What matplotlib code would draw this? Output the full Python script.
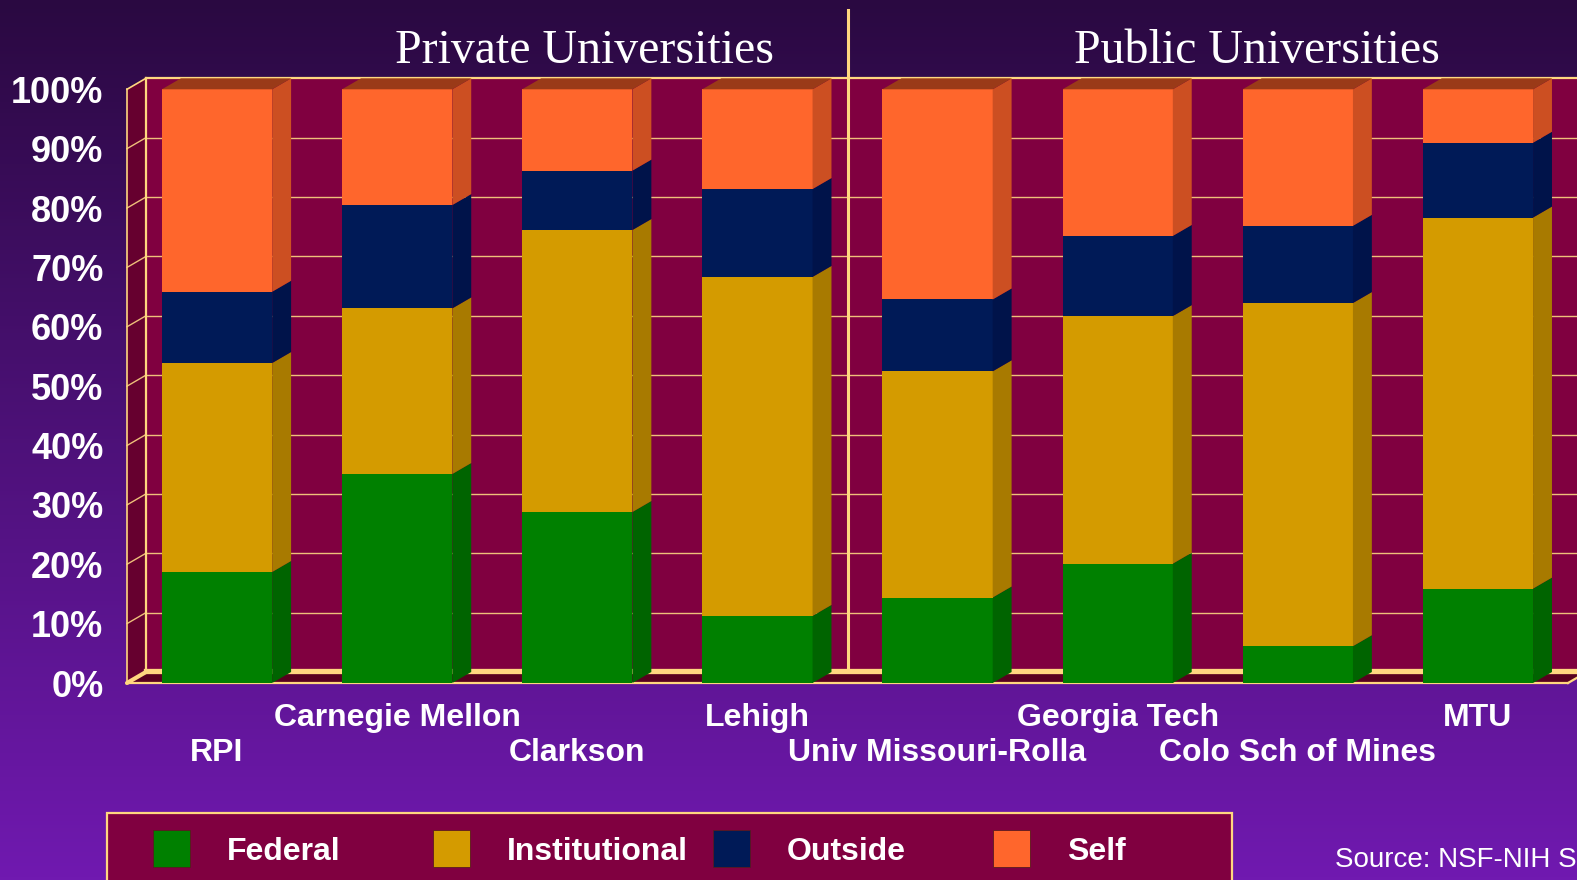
import numpy as np
import matplotlib
matplotlib.use('Agg')
import matplotlib.pyplot as plt
from matplotlib.patches import Polygon, Rectangle
import matplotlib.transforms as mtransforms

# --- Data (percent of graduate student support) ---
categories = ["RPI", "Carnegie Mellon", "Clarkson", "Lehigh",
              "Univ Missouri-Rolla", "Georgia Tech", "Colo Sch of Mines", "MTU"]
federal = [18.7, 35.2, 28.8, 11.3, 14.4, 20.1, 6.2, 15.9]
institutional = [35.2, 27.9, 47.5, 57.1, 38.1, 41.7, 57.8, 62.5]
outside = [12.0, 17.4, 10.0, 14.8, 12.1, 13.5, 13.0, 12.6]
self_funded = [34.1, 19.5, 13.7, 16.8, 35.4, 24.7, 23.0, 9.0]
series_names = ["Federal", "Institutional", "Outside", "Self"]
n_private = 4
group_titles = ["Private Universities", "Public Universities"]
y_ticks = list(range(0, 101, 10))
y_tick_labels = [f"{v}%" for v in y_ticks]
source_note = "Source: NSF-NIH Survey"

# --- Colours ---
front_colors = ['#008000', '#D49B00', '#001A57', '#FF662C']
side_colors = ['#006400', '#A87A00', '#00134A', '#CC4F22']
top_color = '#9A3A18'
wall = '#800040'
side_wall = '#66002F'
floor = '#58001F'
yellow = '#FFD77F'
grid_c = '#EFC07A'

W, H = 1577, 880
fig = plt.figure(figsize=(W / 100, H / 100), dpi=100)

# --- Background gradient ---
bg = fig.add_axes([0, 0, 1, 1], zorder=0)
top_rgb = np.array([42, 9, 65]) / 255
bot_rgb = np.array([112, 25, 176]) / 255
t = np.linspace(0, 1, 256)[:, None]
grad = (top_rgb[None, :] * (1 - t) + bot_rgb[None, :] * t)[:, None, :]
bg.imshow(grad, aspect='auto', extent=[0, 1, 0, 1])
bg.axis('off')

# --- Chart axes (front plane) ---
ax = fig.add_axes([127 / W, (H - 683) / H, 1441 / W, 593.7 / H], zorder=1)
ax.set_facecolor('none')
ax.set_xlim(-0.5, 7.5)
ax.set_ylim(0, 100)
for s in ax.spines.values():
    s.set_visible(False)

ddx, ddy = 0.105, 1.85
x0, x1 = -0.5, 7.5

# back wall, side wall, floor
ax.add_patch(Rectangle((x0 + ddx, ddy), (x1 - x0), 100, fc=wall, ec='none', zorder=1, clip_on=False))
ax.add_patch(Polygon([(x0, 0), (x0 + ddx, ddy), (x0 + ddx, 100 + ddy), (x0, 100)],
                     fc=side_wall, ec='none', zorder=1, clip_on=False))
ax.add_patch(Polygon([(x0, 0), (x1, 0), (x1 + ddx, ddy), (x0 + ddx, ddy)],
                     fc=floor, ec='none', zorder=1, clip_on=False))

# gridlines
for v in y_ticks[1:-1]:
    ax.plot([x0 + ddx, x1 + ddx], [v + ddy] * 2, color=grid_c, lw=1.0, zorder=2, clip_on=False)
    ax.plot([x0, x0 + ddx], [v, v + ddy], color=grid_c, lw=1.0, zorder=2, clip_on=False)

# frame edges
ax.plot([x0 + ddx, x1 + ddx], [100 + ddy] * 2, color=yellow, lw=1.6, zorder=3, clip_on=False)
ax.plot([x0 + ddx, x0 + ddx], [ddy, 100 + ddy], color=yellow, lw=1.6, zorder=3, clip_on=False)
ax.plot([x0, x0], [0, 100], color=yellow, lw=1.2, zorder=3, clip_on=False)
ax.plot([x0, x0 + ddx], [100, 100 + ddy], color=yellow, lw=1.2, zorder=3, clip_on=False)
ax.plot([x0 + ddx, x1 + ddx], [ddy + 0.2] * 2, color=yellow, lw=3.8, zorder=3, clip_on=False)
ax.plot([x0, x1], [0, 0], color=yellow, lw=1.6, zorder=3, clip_on=False)
ax.plot([x0, x0 + ddx], [0, ddy], color=yellow, lw=3.0, zorder=3, clip_on=False,
        solid_capstyle='round')
ax.plot([x1, x1 + ddx], [0, ddy], color=yellow, lw=1.6, zorder=3, clip_on=False)

# group divider
ax.plot([n_private - 0.5] * 2, [2.7, 113.4], color=yellow, lw=2.2, zorder=3, clip_on=False)

# --- Stacked 3D bars ---
x = np.arange(len(categories))
bar_w = 0.612
stack = [federal, institutional, outside, self_funded]
bottom = np.zeros(len(categories))
for vals, fc, sc in zip(stack, front_colors, side_colors):
    vals = np.array(vals, dtype=float)
    ax.bar(x, vals, bar_w, bottom=bottom, color=fc, linewidth=0, zorder=5)
    for xi, b, v in zip(x, bottom, vals):
        r = xi + bar_w / 2
        ax.add_patch(Polygon([(r, b), (r + ddx, b + ddy), (r + ddx, b + v + ddy), (r, b + v)],
                             fc=sc, ec='none', zorder=5, clip_on=False))
    bottom += vals
for xi, tp in zip(x, bottom):
    l, r = xi - bar_w / 2, xi + bar_w / 2
    ax.add_patch(Polygon([(l, tp), (r, tp), (r + ddx, tp + ddy), (l + ddx, tp + ddy)],
                         fc=top_color, ec='none', zorder=5, clip_on=False))

# --- Axis labels ---
ax.set_xticks([])
ax.set_yticks(y_ticks, y_tick_labels)
ax.tick_params(axis='y', length=0, pad=17, labelcolor='white', labelsize=26)
for lab in ax.get_yticklabels():
    lab.set_fontweight('bold')
    lab.set_family('Liberation Sans')

trans = mtransforms.blended_transform_factory(ax.transData, ax.transAxes)
for i, name in enumerate(categories):
    yy = -0.1314 if i % 2 == 0 else -0.0724
    ax.text(i, yy, name, transform=trans, ha='center', va='baseline', color='white',
            fontsize=23, fontweight='bold', family='Liberation Sans')

# --- Titles, legend, source ---
lay = fig.add_axes([0, 0, 1, 1], zorder=3)
lay.set_xlim(0, W)
lay.set_ylim(H, 0)
lay.axis('off')

for cx, title in zip([584.5, 1257], group_titles):
    lay.text(cx, 63, title, ha='center', va='baseline', color='white',
             fontsize=34.5, family='Liberation Serif')

lay.add_patch(Rectangle((107, 813), 1125, 120, fc=wall, ec=yellow, lw=1.6))
for i, (name, fc) in enumerate(zip(series_names, front_colors)):
    lay.add_patch(Rectangle((153 + 280 * i, 830), 37, 37, fc=fc, ec='#5a1a20', lw=0.6))
    lay.text(227 + 280 * i, 860, name, ha='left', va='baseline', color='white',
             fontsize=23, fontweight='bold', family='Liberation Sans')

lay.text(1335, 867, source_note, ha='left', va='baseline', color='white',
         fontsize=20, family='Liberation Sans')

fig.savefig('out.png', dpi=100)
